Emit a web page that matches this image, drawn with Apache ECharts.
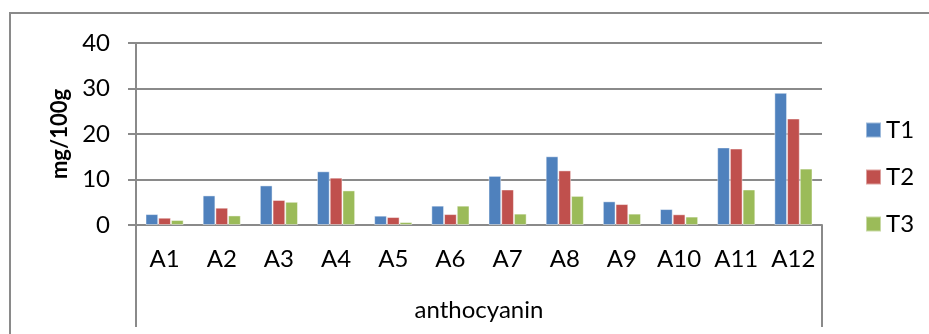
<!DOCTYPE html>
<html>
<head>
<meta charset="utf-8">
<script src="https://cdn.jsdelivr.net/npm/echarts@6/dist/echarts.min.js"></script>
<style>html,body{margin:0;padding:0;background:#fff;}#c{width:929px;height:334px;}</style>
</head>
<body>
<div id="c"></div>
<script>
const categories = ['A1','A2','A3','A4','A5','A6','A7','A8','A9','A10','A11','A12'];
const seriesNames = ['T1','T2','T3'];
const t1 = [2.4, 6.5, 8.7, 11.8, 2.05, 4.25, 10.8, 15.1, 5.2, 3.5, 17.05, 29.05];
const t2 = [1.6, 3.8, 5.5, 10.4, 1.75, 2.4, 7.8, 12.0, 4.6, 2.35, 16.8, 23.4];
const t3 = [1.1, 2.1, 5.1, 7.6, 0.65, 4.25, 2.5, 6.4, 2.5, 1.85, 7.8, 12.4];
const yTicks = [0, 10, 20, 30, 40];

const colors = ['#4F81BD', '#C0504D', '#9BBB59'];
const gridCol = '#8a8a8a';
const font = 'Lato, "Open Sans", sans-serif';
const G = {left: 136, right: 107, top: 43, bottom: 109};

const chart = echarts.init(document.getElementById('c'));
const values = [t1, t2, t3];
chart.setOption({
  animation: false,
  color: colors,
  textStyle: {fontFamily: font},
  grid: {left: G.left, right: G.right, top: G.top, bottom: G.bottom},
  legend: {
    orient: 'vertical', left: 860, top: 113, itemGap: 23,
    itemWidth: 15, itemHeight: 15, icon: 'rect',
    textStyle: {fontSize: 24, color: '#000', fontFamily: font},
    data: seriesNames
  },
  xAxis: {
    type: 'category', data: categories,
    name: 'anthocyanin', nameLocation: 'middle', nameGap: 73,
    nameTextStyle: {fontSize: 24, color: '#000', fontFamily: font},
    axisLine: {show: true, lineStyle: {color: gridCol, width: 2}},
    axisTick: {show: false},
    axisLabel: {fontSize: 24, color: '#000', margin: 22, fontFamily: font, interval: 0}
  },
  yAxis: {
    type: 'value', min: yTicks[0], max: yTicks[yTicks.length-1], interval: 10,
    name: 'mg/100g', nameLocation: 'middle', nameGap: 63,
    nameTextStyle: {fontSize: 22, fontWeight: 'bold', color: '#000', fontFamily: font},
    axisLine: {show: true, lineStyle: {color: gridCol, width: 2}},
    axisTick: {show: true, inside: false, length: 8, lineStyle: {color: gridCol, width: 2}},
    splitLine: {show: true, lineStyle: {color: gridCol, width: 2}},
    axisLabel: {fontSize: 24, color: '#000', margin: 26, fontFamily: font}
  },
  series: seriesNames.map((n, i) => ({
    name: n, type: 'bar', data: values[i],
    barGap: '0%', barCategoryGap: '33.3%',
    itemStyle: {color: colors[i], borderColor: 'rgba(255,255,255,0.45)', borderWidth: 1}
  })),
  graphic: [
    {type: 'rect', shape: {x: 10, y: 13, width: 1000, height: 500}, style: {fill: 'none', stroke: '#8a8a8a', lineWidth: 2}, silent: true, z: -1},
    {type: 'line', shape: {x1: G.left, y1: 334 - G.bottom, x2: G.left, y2: 327}, style: {stroke: gridCol, lineWidth: 2}},
    {type: 'line', shape: {x1: 929 - G.right, y1: 334 - G.bottom, x2: 929 - G.right, y2: 327}, style: {stroke: gridCol, lineWidth: 2}}
  ]
});
</script>
</body>
</html>
